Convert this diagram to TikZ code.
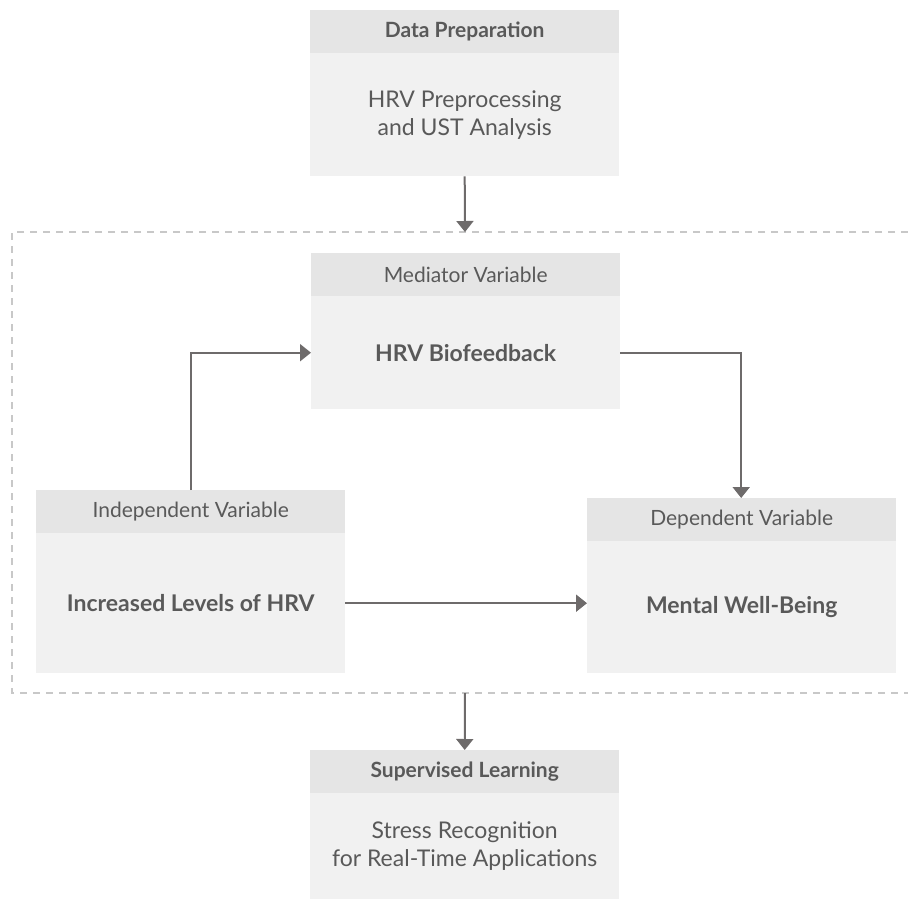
\documentclass[tikz,border=0pt]{standalone}
\usepackage{fontspec}
\setmainfont{Lato}
\usetikzlibrary{arrows.meta}
\definecolor{headfill}{HTML}{E5E5E5}
\definecolor{bodyfill}{HTML}{F1F1F1}
\definecolor{inktext}{HTML}{595959}
\definecolor{arrowgray}{HTML}{6E6B6B}
\definecolor{dashgray}{HTML}{C8C8C8}
\begin{document}
\begin{tikzpicture}[x=1pt,y=-1pt,
  headbox/.style={fill=headfill, inner sep=0pt, minimum width=309pt,
    minimum height=43pt, anchor=north west, text=inktext,
    font=\fontsize{21}{24}\selectfont},
  bodybox/.style={fill=bodyfill, inner sep=0pt, minimum width=309pt,
    anchor=north west, text=inktext, align=center,
    font=\fontsize{23}{28}\selectfont},
  conn/.style={draw=arrowgray, line width=2pt,
    -{Triangle[length=11pt,width=17pt]}},
  groupframe/.style={draw=dashgray, line width=1.5pt,
    dash pattern=on 7pt off 6pt}]
\useasboundingbox (0,0) rectangle (908,899);

% dashed frame around the causal model
\coordinate (gtop) at (465,232);
\coordinate (gbot) at (465,693);
\draw[groupframe] (908,232) -- (12,232) -- (12,693) -- (908,693);

% data preparation
\node[headbox] (prephead) at (310,10) {\bfseries Data Preparation};
\node[bodybox, minimum height=123pt] (prepbody) at (310,53)
  {HRV Preprocessing\\and UST Analysis};

% mediator
\node[headbox] (medhead) at (311,253) {Mediator Variable};
\node[bodybox, minimum height=113pt] (medbody) at (311,296)
  {\bfseries HRV Biofeedback};

% independent
\node[headbox] (indhead) at (36,490) {Independent Variable};
\node[bodybox, minimum height=140pt] (indbody) at (36,533)
  {\bfseries Increased Levels of HRV};

% dependent
\node[headbox] (dephead) at (587,498) {Dependent Variable};
\node[bodybox, minimum height=132pt] (depbody) at (587,541)
  {\bfseries Mental Well-Being};

% supervised learning
\node[headbox] (suphead) at (310,750) {\bfseries Supervised Learning};
\node[bodybox, minimum height=106pt] (supbody) at (310,793)
  {Stress Recognition\\for Real-Time Applications};

% connectors
\draw[conn] (prepbody.south) -- (gtop);
\draw[conn] (indhead.north) |- (medbody.west);
\draw[conn] (medbody.east) -| ([xshift=-0.5pt]dephead.north);
\draw[conn] (indbody.east) -- (indbody.east -| depbody.west);
\draw[conn] (gbot) -- (suphead.north);
\end{tikzpicture}
\end{document}
